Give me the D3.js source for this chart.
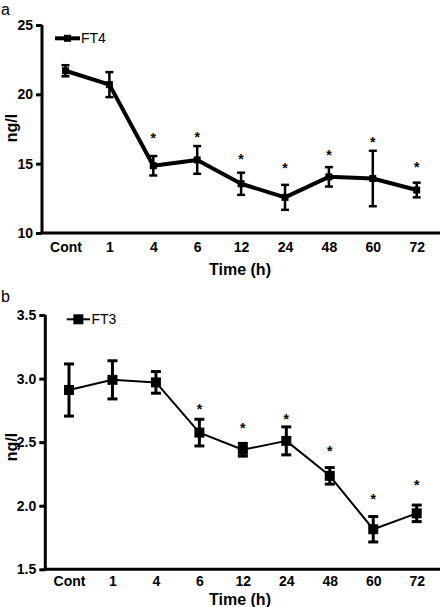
<!DOCTYPE html>
<html><head><meta charset="utf-8">
<script src="https://cdn.jsdelivr.net/npm/d3@7"></script>
<style>body{margin:0;background:#fff}svg{display:block}text{font-family:"Liberation Sans",Arial,sans-serif}
.nb{font-family:"Liberation Sans Narrow","Arial Narrow","Liberation Sans",sans-serif;font-weight:bold}</style>
</head><body>
<svg id="c" width="441" height="607"></svg>
<script>
const categories = ["Cont","1","4","6","12","24","48","60","72"];
const ft4Mean = [21.7,20.7,14.85,15.27,13.55,12.57,14.05,13.93,13.1];
const ft4Err  = [0.4,0.9,0.7,1.0,0.8,0.9,0.7,2.0,0.53];
const ft4Star = [null,null,17.0,17.07,15.5,14.8,15.77,16.7,14.9];
const ft4Ticks = [10,15,20,25];
const ft3Mean = [2.91,2.99,2.97,2.575,2.44,2.51,2.235,1.815,1.94];
const ft3Err  = [0.205,0.15,0.085,0.105,0.05,0.11,0.065,0.1,0.065];
const ft3Star = [null,null,null,2.78,2.63,2.70,2.45,2.07,2.18];
const ft3Ticks = [1.5,2.0,2.5,3.0,3.5];

const svg = d3.select("#c");

function panel(o){
  const g = svg.append("g");
  const x = d3.scalePoint().domain(categories).range([o.x0,o.x1]);
  const y = d3.scaleLinear().domain(o.ydom).range([o.yb,o.yt]);
  const ya = g.append("g").attr("transform",`translate(${o.ax},0)`)
    .call(d3.axisLeft(y).tickValues(o.ticks).tickFormat(o.fmt).tickSize(6).tickSizeOuter(0));
  ya.select(".domain").attr("stroke-width",3).attr("d",`M0,${o.yt}V${o.yb}`);
  ya.selectAll(".tick line").attr("stroke-width",3);
  ya.selectAll(".tick text").attr("class","nb").attr("font-size",14).attr("x",-9);
  g.append("line").attr("x1",o.ax-1.5).attr("x2",440).attr("y1",o.yb).attr("y2",o.yb)
    .attr("stroke","#000").attr("stroke-width",3);
  const xa = g.append("g").attr("transform",`translate(0,${o.yb})`)
    .call(d3.axisBottom(x).tickSize(0).tickPadding(o.tp));
  xa.select(".domain").remove();
  xa.selectAll(".tick text").attr("class","nb").attr("font-size",14);
  g.append("text").attr("class","nb").attr("x",240).attr("y",o.xlab).attr("text-anchor","middle")
    .attr("font-size",16).text("Time (h)");
  g.append("text").attr("class","nb").attr("transform",`translate(17,${o.ylab}) rotate(-90)`).attr("text-anchor","middle")
    .attr("font-size",16).text("ng/l");
  const data = categories.map((c,i)=>({c,m:o.mean[i],e:o.err[i],s:o.star[i]}));
  g.append("path").datum(data).attr("fill","none").attr("stroke","#000").attr("stroke-width",o.lw)
    .attr("stroke-linejoin","round")
    .attr("d",d3.line().x(d=>x(d.c)).y(d=>y(d.m)));
  const eb = g.selectAll(".eb").data(data).enter().append("g");
  eb.append("line").attr("x1",d=>x(d.c)).attr("x2",d=>x(d.c))
    .attr("y1",d=>y(d.m-d.e)).attr("y2",d=>y(d.m+d.e)).attr("stroke","#000").attr("stroke-width",o.ew);
  [1,-1].forEach(s=>{
    eb.append("line").attr("x1",d=>x(d.c)-o.cap).attr("x2",d=>x(d.c)+o.cap)
      .attr("y1",d=>y(d.m+s*d.e)).attr("y2",d=>y(d.m+s*d.e)).attr("stroke","#000").attr("stroke-width",o.ew);
  });
  eb.append("rect").attr("x",d=>x(d.c)-o.ms/2).attr("y",d=>y(d.m)-o.ms/2)
    .attr("width",o.ms).attr("height",o.ms).attr("fill","#000");
  g.selectAll(".st").data(data.filter(d=>d.s!=null)).enter().append("text")
    .attr("x",d=>x(d.c)).attr("y",d=>y(d.s)+7).attr("text-anchor","middle")
    .attr("font-size",14).attr("font-weight","bold").text("*");
  g.append("line").attr("x1",o.lg[0]).attr("x2",o.lg[1]).attr("y1",o.lg[3]).attr("y2",o.lg[3])
    .attr("stroke","#000").attr("stroke-width",o.lw);
  g.append("rect").attr("x",(o.lg[0]+o.lg[1])/2-o.ms/2).attr("y",o.lg[3]-o.ms/2)
    .attr("width",o.ms).attr("height",o.ms).attr("fill","#000");
  g.append("text").attr("x",o.lg[2]).attr("y",o.lg[3]+5).attr("font-size",14).text(o.name);
  g.append("text").attr("x",1).attr("y",o.plab).attr("font-size",16).text(o.letter);
}

panel({x0:65.5,x1:416.7,yt:25,yb:233,ax:42,ydom:[10,25],ticks:ft4Ticks,fmt:d3.format("d"),
  mean:ft4Mean,err:ft4Err,star:ft4Star,lw:4,ew:2.5,cap:4,ms:7,tp:9,xlab:275,ylab:128,
  lg:[55,80,81,38.3],name:"FT4",letter:"a",plab:15});
panel({x0:69,x1:416.7,yt:315,yb:569.3,ax:45.3,ydom:[1.5,3.5],ticks:ft3Ticks,fmt:d3.format(".1f"),
  mean:ft3Mean,err:ft3Err,star:ft3Star,lw:2,ew:3,cap:5,ms:10,tp:7,xlab:605,ylab:447,
  lg:[66.7,90,91.5,319.3],name:"FT3",letter:"b",plab:302});
</script>
</body></html>
